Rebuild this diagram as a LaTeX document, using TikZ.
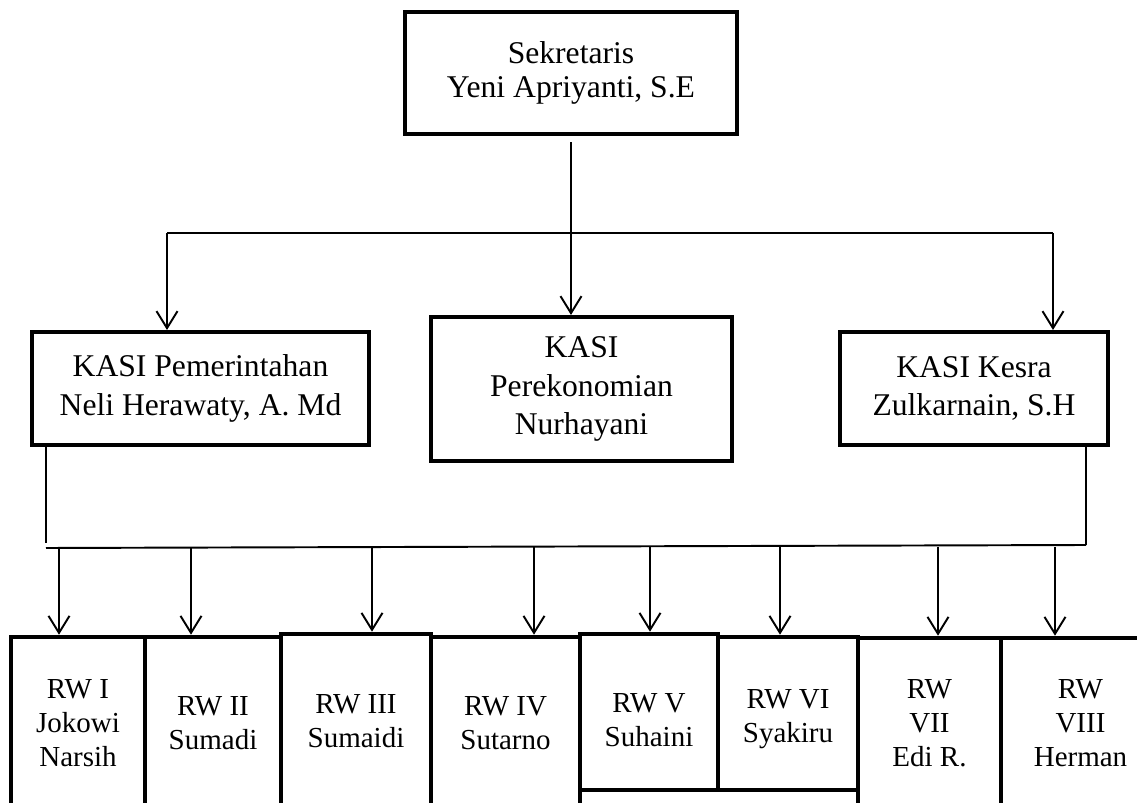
\documentclass[tikz,border=0pt]{standalone}
\usepackage{fontspec}
\setmainfont{Liberation Serif}
\usepackage{tikz}
\usetikzlibrary{arrows.meta,positioning,calc}
\tikzset{
  topbox/.style={draw, line width=2.3pt, align=center, inner sep=0pt,
    font=\fontsize{18}{19.5}\selectfont},
  kasibox/.style={draw, line width=2.3pt, align=center, inner sep=0pt,
    font=\fontsize{18}{22}\selectfont},
  rwbox/.style={draw, line width=2.6pt, inner sep=0pt},
  rwtext/.style={align=center, inner sep=0pt,
    font=\fontsize{16.5}{19.3}\selectfont},
  busln/.style={line width=1.1pt},
  downln/.style={-{Straight Barb[length=3.4mm,width=4.2mm]}, line width=1.1pt},
}

\begin{document}
\begin{tikzpicture}
    \path[use as bounding box, clip] (0,0) rectangle (22.74,16.04);
    % sekretaris
    \node[topbox, minimum width=6.64cm, minimum height=2.44cm] (sek)
      at (11.42,14.58) {Sekretaris\\Yeni Apriyanti, S.E};
    % kasi row
    \node[kasibox, minimum width=6.74cm, minimum height=2.26cm] (pem)
      at (4.01,8.27) {KASI Pemerintahan\\Neli Herawaty, A. Md};
    \node[kasibox, minimum width=6.02cm, minimum height=2.88cm] (eko)
      at (11.63,8.26) {KASI\\Perekonomian\\Nurhayani};
    \node[kasibox, minimum width=5.36cm, minimum height=2.26cm] (kesra)
      at (19.48,8.27) {KASI Kesra\\Zulkarnain, S.H};
    % rw row
    \foreach \n/\x/\y/\w/\h/\ty/\lab in {
        1/1.56/1.58/2.68/3.44/0/{RW I\\Jokowi\\Narsih},
        2/4.26/1.58/2.72/3.44/0/{RW II\\Sumadi},
        3/7.12/1.61/3.00/3.50/0/{RW III\\Sumaidi},
        4/10.11/1.58/2.98/3.44/0/{RW IV\\Sutarno},
        5/12.98/1.80/2.76/3.12/-0.16/{RW V\\Suhaini},
        6/15.76/1.77/2.80/3.06/-0.12/{RW VI\\Syakiru},
        7/18.59/1.57/2.86/3.42/0/{RW\\VII\\Edi R.},
        8/21.61/1.57/3.18/3.42/0/{RW\\VIII\\Herman}} {
      \node[rwbox, minimum width=\w cm, minimum height=\h cm] (rw\n)
        at (\x,\y) {};
      \node[rwtext] (rwt\n) at ([yshift=\ty cm]rw\n.center) {\lab};
    }
    % sekretaris to kasi
    \coordinate (tl) at (3.34,11.38);
    \coordinate (tr) at (21.06,11.38);
    \draw[downln] ([yshift=-0.12cm]sek.south) -- (sek.south |- eko.north);
    \draw[busln] (tl) -- (tr);
    \draw[downln] (tl) -- (tl |- pem.north);
    \draw[downln] (tr) -- (tr |- kesra.north);
    % kasi to rw
    \coordinate (bl) at (0.92,5.08);
    \coordinate (br) at (21.72,5.14);
    \draw[busln] (pem.south -| bl) -- (0.92,5.18);
    \draw[busln] (kesra.south -| br) -- (br);
    \draw[busln] (bl) -- (br);
    \foreach \n/\x in {1/1.18, 2/3.82, 3/7.44, 4/10.68, 5/13.00, 6/15.60,
        7/18.76, 8/21.10} {
      \coordinate (b\n) at (\x,5.10);
      \draw[downln] (b\n) -- (b\n |- rw\n.north);
    }
\end{tikzpicture}
\end{document}
